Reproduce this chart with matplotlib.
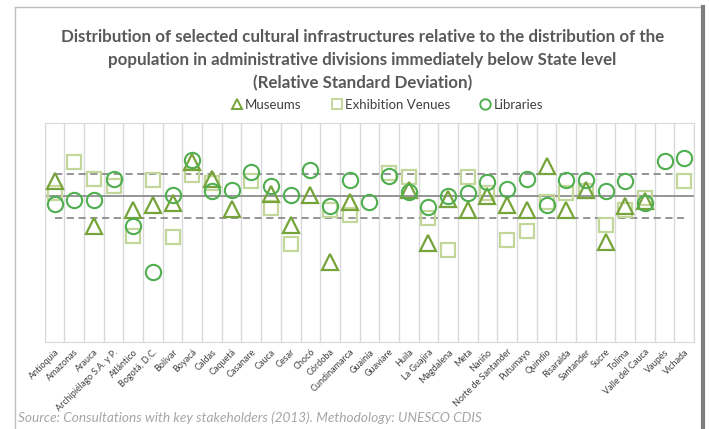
import matplotlib

matplotlib.use("Agg")

import matplotlib.pyplot as plt
import numpy as np
from matplotlib.lines import Line2D

# departments of Colombia
departments = [
    "Antioquia", "Amazonas", "Arauca", "Archipiélago S.A. y P.", "Atlántico",
    "Bogotá, D.C.", "Bolívar", "Boyacá", "Caldas", "Caquetá", "Casanare",
    "Cauca", "Cesar", "Chocó", "Córdoba", "Cundinamarca", "Guainía",
    "Guaviare", "Huila", "La Guajira", "Magdalena", "Meta", "Nariño",
    "Norte de Santander", "Putumayo", "Quindío", "Risaralda", "Santander",
    "Sucre", "Tolima", "Valle del Cauca", "Vaupés", "Vichada",
]

nan = np.nan
# relative standard deviation (mean = 1)
museums = [
    1.103, nan, 0.798, nan, 0.904, 0.943, 0.955, 1.239, 1.120, 0.913, nan,
    1.019, 0.805, 1.012, 0.546, 0.959, nan, nan, 1.046, 0.683, 0.982, 0.908,
    1.005, 0.943, 0.904, 1.206, 0.908, 1.046, 0.690, 0.936, 0.966, nan, nan,
]
exhibition_venues = [
    1.025, 1.239, 1.120, 1.074, 0.725, 1.115, 0.721, 1.149, 1.092, nan, 1.103,
    0.920, 0.672, nan, 0.908, 0.874, nan, 1.161, 1.134, 0.851, 0.633, 1.134,
    1.023, 0.702, 0.764, 0.964, 1.023, 1.034, 0.805, 0.904, 0.989, nan, 1.103,
]
libraries = [
    0.948, 0.977, 0.977, 1.120, 0.794, 0.484, 1.012, 1.253, 1.039, 1.046, 1.165,
    1.074, 1.012, 1.184, 0.931, 1.115, 0.959, 1.138, 1.030, 0.927, 1.000, 1.023,
    1.096, 1.051, 1.120, 0.943, 1.110, 1.115, 1.034, 1.103, 0.955, 1.241, 1.264,
]
mean_level = 1.0
band = [0.851, 1.154]

c_mus = "#76A33A"
c_exh = "#C4D79B"
c_lib = "#4FAE4F"
text_gray = "#595959"

fig = plt.figure(figsize=(7.09, 4.29), dpi=100)
ax = fig.add_axes([0.063, 0.203, 0.916, 0.511])

x = np.arange(len(departments))
ax.axhline(mean_level, color="#8C8C8C", lw=1.3, zorder=2)
for b in band:
    ax.plot([x[0], x[-1]], [b, b], color="#8C8C8C", lw=1.3,
            ls=(0, (4, 2.5)), zorder=2)

ax.plot(x, exhibition_venues, ls="none", marker="s", ms=10.5, mfc="none",
        mec=c_exh, mew=1.6, zorder=3)
ax.plot(x, museums, ls="none", marker="^", ms=11, mfc="none",
        mec=c_mus, mew=1.6, zorder=4)
ax.plot(x, libraries, ls="none", marker="o", ms=11, mfc="none",
        mec=c_lib, mew=1.5, zorder=5)

ax.set_xlim(-0.5, len(departments) - 0.5)
ax.set_ylim(0, 1.507)
ax.set_yticks([])
ax.set_xticks(x)
ax.set_xticklabels(departments, rotation=45, ha="right",
                   rotation_mode="anchor", fontsize=6.5, color="#404040",
                   family="Lato")
ax.tick_params(axis="x", length=0, pad=4)
ax.set_xticks(np.arange(-0.5, len(departments)), minor=True)
ax.tick_params(axis="x", which="minor", length=0)
ax.grid(which="minor", axis="x", color="#D9D9D9", lw=1)
for s in ax.spines.values():
    s.set_color("#D9D9D9")

fig.text(0.511, 0.86,
         "Distribution of selected cultural infrastructures relative to the distribution of the\n"
         "population in administrative divisions immediately below State level\n"
         "(Relative Standard Deviation)",
         ha="center", va="center", fontsize=12.2, fontweight="bold",
         color=text_gray, family="Lato", linespacing=1.55)

handles = [
    Line2D([], [], ls="none", marker="^", ms=7.5, mfc="none", mec=c_mus, mew=1.4),
    Line2D([], [], ls="none", marker="s", ms=7.5, mfc="none", mec=c_exh, mew=1.4),
    Line2D([], [], ls="none", marker="o", ms=7.5, mfc="none", mec=c_lib, mew=1.4),
]
fig.legend(handles, ["Museums", "Exhibition Venues", "Libraries"],
           loc="center", bbox_to_anchor=(0.545, 0.755), ncol=3, frameon=False,
           handletextpad=0.1, columnspacing=2.2, handlelength=1.0,
           prop={"family": "Lato", "size": 9.5}, labelcolor="#404040")

fig.text(0.025, 0.027,
         "Source: Consultations with key stakeholders (2013). Methodology: UNESCO CDIS",
         ha="left", va="center", fontsize=9.8, style="italic",
         color="#A6A6A6", family="Lato")

# chart frame
fig.add_artist(Line2D([0.021, 0.021], [0.0, 0.984], color="#BFBFBF", lw=1,
                      transform=fig.transFigure))
fig.add_artist(Line2D([0.021, 0.99], [0.984, 0.984], color="#BFBFBF", lw=1,
                      transform=fig.transFigure))
fig.add_artist(Line2D([0.992, 0.992], [0.0, 0.984], color="#7F7F7F", lw=3,
                      transform=fig.transFigure))

fig.savefig("out.png", dpi=100)
